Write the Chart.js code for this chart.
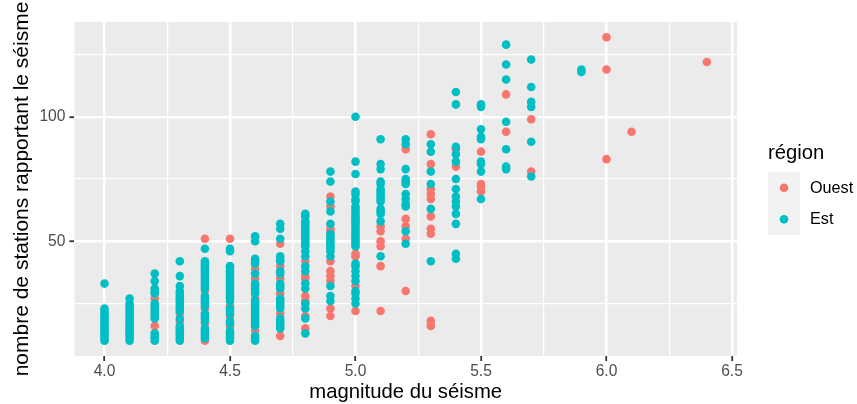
<!DOCTYPE html>
<html>
<head>
<meta charset="utf-8">
<script src="https://cdn.jsdelivr.net/npm/chart.js@4/dist/chart.umd.min.js"></script>
<style>
  html, body { margin: 0; padding: 0; background: #ffffff; }
  #wrap { width: 857px; height: 404px; }
  canvas { display: block; }
</style>
</head>
<body>
<div id="wrap"><canvas id="chart" width="857" height="404"></canvas></div>
<script>
// Séismes : magnitude et nombre de stations, par région
const magnitudes = [4.0, 4.1, 4.2, 4.3, 4.4, 4.5, 4.6, 4.7, 4.8, 4.9, 5.0, 5.1, 5.2, 5.3, 5.4, 5.5, 5.6, 5.7, 5.9, 6.0, 6.1, 6.4];

// stations par magnitude, région Est
const stationsEst = [
  [10, 11, 12, 13, 14, 15, 16, 17, 18, 19, 20, 21, 22, 23, 33],
  [10, 11, 12, 13, 14, 15, 16, 17, 18, 19, 20, 21, 22, 23, 24, 25, 27],
  [10, 11, 12, 13, 19, 20, 21, 22, 23, 24, 25, 29, 30, 31, 34, 37],
  [10, 11, 12, 13, 14, 15, 16, 19, 22, 23, 24, 25, 26, 27, 28, 29, 30, 32, 36, 42],
  [11, 12, 13, 14, 15, 18, 19, 20, 21, 24, 25, 26, 27, 28, 31, 32, 33, 34, 35, 36, 37, 38, 39, 40, 41, 42, 47],
  [10, 11, 12, 13, 14, 17, 18, 21, 22, 23, 26, 27, 28, 29, 30, 31, 32, 33, 34, 35, 36, 37, 38, 39, 40, 46, 47],
  [10, 11, 12, 16, 17, 18, 19, 20, 21, 22, 23, 24, 25, 26, 29, 30, 31, 32, 33, 37, 41, 42, 43, 50, 52],
  [15, 16, 17, 18, 19, 23, 24, 25, 26, 27, 31, 32, 33, 37, 38, 42, 43, 44, 51, 55, 57],
  [13, 19, 23, 25, 31, 33, 38, 40, 44, 46, 48, 49, 50, 51, 52, 53, 54, 55, 56, 57, 58, 60, 61],
  [26, 28, 32, 44, 46, 47, 48, 49, 50, 51, 52, 53, 57, 62, 66, 74, 78],
  [25, 27, 29, 30, 34, 36, 38, 40, 41, 48, 49, 50, 51, 52, 53, 55, 56, 57, 58, 59, 60, 62, 63, 64, 66, 67, 69, 70, 77, 82, 100],
  [44, 58, 61, 62, 63, 66, 67, 68, 69, 70, 71, 73, 74, 79, 81, 91],
  [49, 54, 64, 65, 67, 69, 73, 74, 75, 79, 89, 91],
  [42, 63, 73, 78, 86, 89],
  [43, 45, 57, 61, 64, 66, 68, 71, 75, 82, 85, 88, 105, 110],
  [67, 78, 81, 82, 91, 92, 95, 104, 105],
  [79, 80, 87, 98, 115, 121, 129],
  [76, 90, 104, 106, 112, 123],
  [118, 119],
  [],
  [],
  []
];

// stations par magnitude, région Ouest
const stationsOuest = [
  [],
  [],
  [16, 27],
  [18, 21],
  [10, 17, 23, 30, 51],
  [16, 20, 24, 51],
  [14, 27, 35, 39],
  [12, 21, 29, 35, 40, 49],
  [15, 20, 26, 28, 35, 36, 42],
  [20, 23, 34, 36, 38, 42, 54, 55, 64, 68],
  [22, 32, 44, 45, 54, 61],
  [22, 40, 48, 50, 54, 56],
  [30, 51, 56, 59, 87],
  [16, 18, 53, 55, 60, 67, 69, 71, 81, 93],
  [80, 87],
  [70, 72, 73, 86],
  [94, 109],
  [78, 99],
  [],
  [83, 119, 132],
  [94],
  [122]
];

const xMajorTicks = [4.0, 4.5, 5.0, 5.5, 6.0, 6.5];
const xMinorTicks = [4.25, 4.75, 5.25, 5.75, 6.25];
const yMajorTicks = [50, 100];
const yMinorTicks = [25, 75, 125];

const regionNames = ['Ouest', 'Est'];
const regionColors = ['#F8766D', '#00BFC4'];

const FONT = '"Liberation Sans", Arial, Helvetica, sans-serif';

function toPoints(lists) {
  const pts = [];
  lists.forEach((vals, i) => vals.forEach(s => pts.push({ x: magnitudes[i], y: s })));
  return pts;
}

function isMajor(list, ctx) {
  return ctx.tick && list.includes(ctx.tick.value);
}

// fond gris du panneau
const panelBackground = {
  id: 'panelBackground',
  beforeDraw(chart) {
    const { ctx, chartArea: a } = chart;
    ctx.save();
    ctx.fillStyle = '#FFFFFF';
    ctx.fillRect(0, 0, chart.width, chart.height);
    ctx.fillStyle = '#EBEBEB';
    ctx.fillRect(a.left, a.top, a.right - a.left, a.bottom - a.top);
    ctx.restore();
  }
};

// titre vertical et légende à droite
const annotations = {
  id: 'annotations',
  afterDraw(chart) {
    const { ctx, chartArea: a } = chart;
    ctx.save();
    ctx.fillStyle = '#000000';
    ctx.font = '21px ' + FONT;
    ctx.textAlign = 'center';
    ctx.textBaseline = 'middle';
    ctx.translate(22, (a.top + a.bottom) / 2);
    ctx.rotate(-Math.PI / 2);
    ctx.fillText('nombre de stations rapportant le séisme', 0, 0);
    ctx.restore();

    ctx.save();
    const lx = 768, keyTop = 172, keyH = 31.5, keyW = 32;
    ctx.fillStyle = '#000000';
    ctx.font = '20.3px ' + FONT;
    ctx.textAlign = 'left';
    ctx.textBaseline = 'middle';
    ctx.fillText('région', lx, 153);
    ctx.fillStyle = '#F2F2F2';
    ctx.fillRect(lx, keyTop, keyW, keyH * regionNames.length);
    regionNames.forEach((name, i) => {
      const cy = keyTop + keyH * i + keyH / 2;
      ctx.fillStyle = regionColors[i];
      ctx.beginPath();
      ctx.arc(lx + keyW / 2, cy, 4.3, 0, Math.PI * 2);
      ctx.fill();
      ctx.fillStyle = '#000000';
      ctx.font = '16.2px ' + FONT;
      ctx.fillText(name, 810, cy + 0.5);
    });
    ctx.restore();
  }
};

const gridFor = (major) => ({
  color: '#FFFFFF',
  lineWidth: ctx => isMajor(major, ctx) ? 2.4 : 1.2,
  tickColor: ctx => isMajor(major, ctx) ? '#333333' : 'rgba(0,0,0,0)',
  tickLength: 5,
  tickWidth: 1.8,
  drawOnChartArea: true,
  drawTicks: true
});

new Chart(document.getElementById('chart'), {
  type: 'scatter',
  data: {
    datasets: [
      {
        label: regionNames[0],
        data: toPoints(stationsOuest),
        backgroundColor: regionColors[0],
        pointRadius: 4.3,
        pointHoverRadius: 4.3,
        pointBorderWidth: 0,
        order: 2
      },
      {
        label: regionNames[1],
        data: toPoints(stationsEst),
        backgroundColor: regionColors[1],
        pointRadius: 4.3,
        pointHoverRadius: 4.3,
        pointBorderWidth: 0,
        order: 1
      }
    ]
  },
  options: {
    responsive: false,
    animation: false,
    devicePixelRatio: 1,
    events: [],
    layout: { padding: { left: 0, right: 120, top: 22, bottom: 0 } },
    plugins: {
      legend: { display: false },
      tooltip: { enabled: false }
    },
    scales: {
      x: {
        type: 'linear',
        min: 3.88,
        max: 6.52,
        afterBuildTicks: s => {
          s.ticks = [...xMajorTicks, ...xMinorTicks].sort((p, q) => p - q).map(v => ({ value: v }));
        },
        afterFit: s => { s.height = 48; },
        border: { display: false },
        grid: gridFor(xMajorTicks),
        ticks: {
          autoSkip: false,
          maxRotation: 0,
          padding: 1,
          color: '#4D4D4D',
          font: { family: FONT, size: 15.6 },
          callback: v => xMajorTicks.includes(v) ? v.toFixed(1) : ''
        },
        title: {
          display: true,
          text: 'magnitude du séisme',
          color: '#000000',
          font: { family: FONT, size: 20.3, lineHeight: 1 },
          padding: { top: 0, bottom: 1 }
        }
      },
      y: {
        type: 'linear',
        min: 3.9,
        max: 138.1,
        afterBuildTicks: s => {
          s.ticks = [...yMinorTicks, ...yMajorTicks].sort((p, q) => p - q).map(v => ({ value: v }));
        },
        afterFit: s => { s.width = 74.4; },
        border: { display: false },
        grid: gridFor(yMajorTicks),
        ticks: {
          autoSkip: false,
          padding: 4,
          color: '#4D4D4D',
          font: { family: FONT, size: 15.6 },
          callback: v => yMajorTicks.includes(v) ? String(v) : ''
        }
      }
    }
  },
  plugins: [panelBackground, annotations]
});
</script>
</body>
</html>
